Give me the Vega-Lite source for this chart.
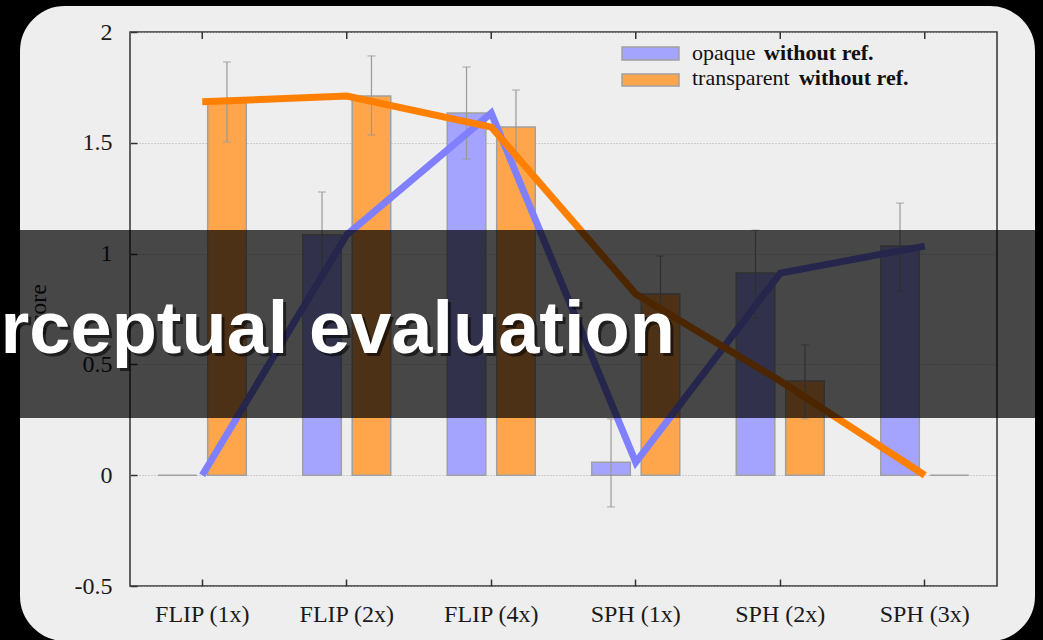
{
  "$schema": "https://vega.github.io/schema/vega-lite/v6.json",
  "width": 867,
  "height": 554,
  "autosize": {"type": "none"},
  "padding": {"left": 130, "top": 32, "right": 46, "bottom": 54},
  "background": "#eeeeee",
  "config": {
    "view": {"stroke": "#333333", "strokeWidth": 1.5},
    "axis": {
      "domain": false,
      "labelFont": "Liberation Serif",
      "labelFontSize": 24,
      "labelColor": "#1a1a1a",
      "titleFont": "Liberation Serif",
      "titleFontSize": 24,
      "titleFontWeight": "normal",
      "titleColor": "#1a1a1a",
      "tickColor": "#333333",
      "tickWidth": 1.5,
      "tickSize": -7,
      "zindex": 0
    }
  },
  "layer": [
    {
      "data": {
        "values": [
          {"cat": "FLIP (1x)", "series": "opaque", "value": 0, "lo": null, "hi": null},
          {"cat": "FLIP (1x)", "series": "transparent", "value": 1.685, "lo": 1.504, "hi": 1.865},
          {"cat": "FLIP (2x)", "series": "opaque", "value": 1.085, "lo": 0.89, "hi": 1.278},
          {"cat": "FLIP (2x)", "series": "transparent", "value": 1.711, "lo": 1.535, "hi": 1.892},
          {"cat": "FLIP (4x)", "series": "opaque", "value": 1.634, "lo": 1.427, "hi": 1.842},
          {"cat": "FLIP (4x)", "series": "transparent", "value": 1.571, "lo": 1.413, "hi": 1.738},
          {"cat": "SPH (1x)", "series": "opaque", "value": 0.058, "lo": -0.143, "hi": 0.254},
          {"cat": "SPH (1x)", "series": "transparent", "value": 0.818, "lo": 0.647, "hi": 0.989},
          {"cat": "SPH (2x)", "series": "opaque", "value": 0.912, "lo": 0.709, "hi": 1.106},
          {"cat": "SPH (2x)", "series": "transparent", "value": 0.425, "lo": 0.254, "hi": 0.588},
          {"cat": "SPH (3x)", "series": "opaque", "value": 1.034, "lo": 0.831, "hi": 1.228},
          {"cat": "SPH (3x)", "series": "transparent", "value": 0, "lo": null, "hi": null}
        ]
      },
      "layer": [
        {
          "mark": {"type": "bar", "stroke": "#a0a0a0", "strokeWidth": 1.5},
          "encoding": {
            "x": {
              "field": "cat", "type": "nominal", "sort": null,
              "scale": {"paddingInner": 0.391, "paddingOuter": 0.1955},
              "axis": {"title": null, "labelAngle": 0, "labelPadding": 23, "grid": false}
            },
            "xOffset": {"field": "series", "type": "nominal", "sort": null, "scale": {"paddingInner": 0.22, "paddingOuter": 0}},
            "y": {
              "field": "value", "type": "quantitative",
              "scale": {"domain": [-0.5, 2], "nice": false, "zero": false},
              "axis": {
                "title": "score",
                "values": [-0.5, 0, 0.5, 1, 1.5, 2],
                "labelPadding": 25,
                "titlePadding": 24,
                "grid": true,
                "gridColor": "#aaaaaa",
                "gridDash": [1, 2],
                "labelExpr": "'' + datum.value"
              }
            },
            "fill": {"field": "series", "type": "nominal", "sort": null, "scale": {"range": ["#a4a4ff", "#ffa64d"]}, "legend": null}
          }
        },
        {
          "transform": [{"filter": "datum.lo != null"}],
          "mark": {"type": "rule", "color": "#999999", "strokeWidth": 1.2},
          "encoding": {
            "x": {"field": "cat", "type": "nominal", "sort": null},
            "xOffset": {"field": "series", "type": "nominal", "sort": null},
            "y": {"field": "lo", "type": "quantitative"},
            "y2": {"field": "hi"}
          }
        },
        {
          "transform": [{"filter": "datum.lo != null"}],
          "mark": {"type": "tick", "color": "#999999", "thickness": 1.2, "size": 8},
          "encoding": {
            "x": {"field": "cat", "type": "nominal", "sort": null},
            "xOffset": {"field": "series", "type": "nominal", "sort": null},
            "y": {"field": "lo", "type": "quantitative"}
          }
        },
        {
          "transform": [{"filter": "datum.lo != null"}],
          "mark": {"type": "tick", "color": "#999999", "thickness": 1.2, "size": 8},
          "encoding": {
            "x": {"field": "cat", "type": "nominal", "sort": null},
            "xOffset": {"field": "series", "type": "nominal", "sort": null},
            "y": {"field": "hi", "type": "quantitative"}
          }
        },
        {
          "mark": {"type": "line", "strokeWidth": 7},
          "encoding": {
            "x": {"field": "cat", "type": "nominal", "sort": null},
            "y": {"field": "value", "type": "quantitative"},
            "stroke": {"field": "series", "type": "nominal", "sort": null, "scale": {"range": ["#8080ff", "#ff7f00"]}, "legend": null}
          }
        },
        {
          "transform": [{"filter": "datum.series == 'opaque'"}],
          "mark": {"type": "rule", "color": "#333333", "strokeWidth": 1.5},
          "encoding": {
            "x": {"field": "cat", "type": "nominal", "sort": null},
            "y": {"datum": 2},
            "y2": {"datum": 1.9684}
          }
        }
      ]
    },
    {
      "data": {"values": [{}]},
      "layer": [
        {
          "mark": {"type": "rect", "color": "#000000", "opacity": 0.7},
          "encoding": {
            "x": {"datum": -0.2, "type": "quantitative", "scale": {"domain": [0, 1], "nice": false, "zero": false}, "axis": null},
            "x2": {"datum": 1.1},
            "y": {"datum": 1.1065},
            "y2": {"datum": 0.2581}
          }
        },
        {
          "mark": {"type": "rect", "filled": false, "color": "#000000", "strokeWidth": 100, "cornerRadius": 95},
          "encoding": {
            "x": {"datum": -0.18454, "type": "quantitative"},
            "x2": {"datum": 1.1015},
            "y": {"datum": 2.343},
            "y2": {"datum": -0.9738}
          }
        },
        {
          "mark": {"type": "text", "text": "Perceptual evaluation", "font": "Liberation Sans", "fontSize": 74, "fontWeight": "bold", "color": "#000000", "opacity": 0.55, "align": "left", "baseline": "alphabetic", "dx": 3, "dy": 3},
          "encoding": {
            "x": {"datum": -0.2537, "type": "quantitative"},
            "y": {"datum": 0.5514}
          }
        },
        {
          "mark": {"type": "text", "text": "Perceptual evaluation", "font": "Liberation Sans", "fontSize": 74, "fontWeight": "bold", "color": "#ffffff", "align": "left", "baseline": "alphabetic"},
          "encoding": {
            "x": {"datum": -0.2537, "type": "quantitative"},
            "y": {"datum": 0.5514}
          }
        },
        {
          "mark": {"type": "rect", "fill": "#a4a4ff", "stroke": "#a0a0a0", "strokeWidth": 1.5},
          "encoding": {
            "x": {"datum": 0.5675, "type": "quantitative"},
            "x2": {"datum": 0.6332},
            "y": {"datum": 1.9323},
            "y2": {"datum": 1.8736}
          }
        },
        {
          "mark": {"type": "rect", "fill": "#ffa64d", "stroke": "#a0a0a0", "strokeWidth": 1.5},
          "encoding": {
            "x": {"datum": 0.5675, "type": "quantitative"},
            "x2": {"datum": 0.6332},
            "y": {"datum": 1.8105},
            "y2": {"datum": 1.7563}
          }
        },
        {
          "mark": {"type": "text", "text": "opaque", "font": "Liberation Serif", "fontSize": 22, "color": "#111111", "align": "left", "baseline": "alphabetic"},
          "encoding": {"x": {"datum": 0.6482, "type": "quantitative"}, "y": {"datum": 1.8736}}
        },
        {
          "mark": {"type": "text", "text": "without ref.", "font": "Liberation Serif", "fontSize": 22, "fontWeight": "bold", "color": "#111111", "align": "left", "baseline": "alphabetic"},
          "encoding": {"x": {"datum": 0.7313, "type": "quantitative"}, "y": {"datum": 1.8736}}
        },
        {
          "mark": {"type": "text", "text": "transparent", "font": "Liberation Serif", "fontSize": 22, "color": "#111111", "align": "left", "baseline": "alphabetic"},
          "encoding": {"x": {"datum": 0.6482, "type": "quantitative"}, "y": {"datum": 1.7608}}
        },
        {
          "mark": {"type": "text", "text": "without ref.", "font": "Liberation Serif", "fontSize": 22, "fontWeight": "bold", "color": "#111111", "align": "left", "baseline": "alphabetic"},
          "encoding": {"x": {"datum": 0.7716, "type": "quantitative"}, "y": {"datum": 1.7608}}
        }
      ]
    }
  ],
  "resolve": {"scale": {"x": "independent"}, "axis": {"x": "independent"}}
}
